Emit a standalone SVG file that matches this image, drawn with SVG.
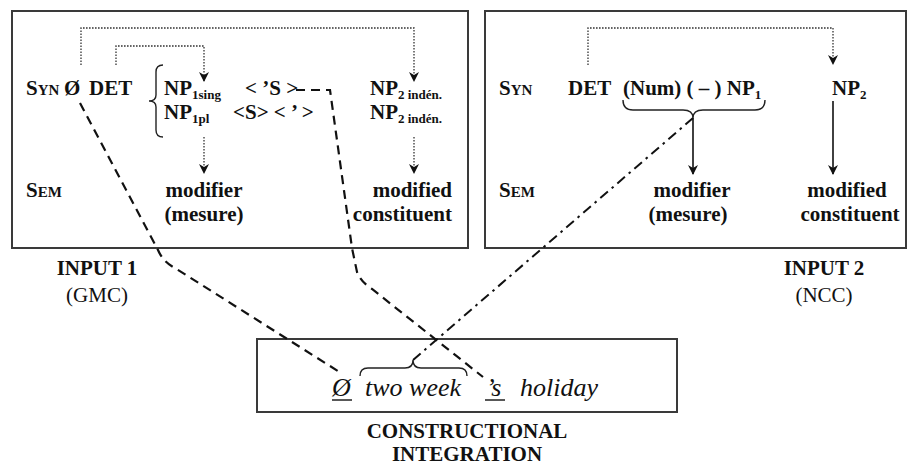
<svg xmlns="http://www.w3.org/2000/svg" width="908" height="465" viewBox="0 0 908 465">
<defs>
<style>
.box{fill:#fff;stroke:#3a3a3a;stroke-width:2}
.t{font-family:"Liberation Serif","DejaVu Serif",serif;font-weight:bold;font-size:21px;fill:#111}
.r{font-family:"Liberation Serif","DejaVu Serif",serif;font-size:21px;fill:#111}
.it{font-family:"Liberation Serif","DejaVu Serif",serif;font-style:italic;font-size:26px;fill:#111}
.sub{font-size:13px}
.sc{font-size:15px}
.dot{fill:none;stroke:#333;stroke-width:1.3;stroke-dasharray:1.6 1.4}
.sol{fill:none;stroke:#111;stroke-width:1.6}
.dash{fill:none;stroke:#111;stroke-width:2.2;stroke-dasharray:9 6}
.dd{fill:none;stroke:#111;stroke-width:2;stroke-dasharray:10 5 2.5 5}
.brace{fill:none;stroke:#222;stroke-width:1.4}
</style>
<marker id="ah" viewBox="0 0 10 10" refX="9" refY="5" markerWidth="10" markerHeight="10" markerUnits="userSpaceOnUse" orient="auto">
<path d="M0,0 L10,5 L0,10 L3,5 z" fill="#111"/>
</marker>
</defs>

<g id="input1">
<rect class="box" x="12" y="11" width="456" height="237"/>
<text class="t" x="26" y="95">S<tspan class="sc">YN</tspan></text>
<text class="t" x="64" y="95">Ø</text>
<text class="t" x="89" y="95" font-size="22">DET</text>
<path class="brace" d="M163,65 Q156,65 156,72 L156,95 Q156,101 149,101 Q156,101 156,107 L156,130 Q156,137 163,137"/>
<text class="t" x="164" y="95">NP<tspan class="sub" dy="4">1sing</tspan></text>
<text class="t" x="164" y="119">NP<tspan class="sub" dy="4">1pl</tspan></text>
<text class="t" x="245" y="95">&lt; ’S &gt;</text>
<text class="t" x="233" y="119">&lt;S&gt; &lt; ’ &gt;</text>
<text class="t" x="370" y="95">NP<tspan class="sub" dy="4">2 indén.</tspan></text>
<text class="t" x="370" y="119">NP<tspan class="sub" dy="4">2 indén.</tspan></text>
<text class="t" x="26" y="197">S<tspan class="sc">EM</tspan></text>
<text class="t" x="204" y="197" text-anchor="middle">modifier</text>
<text class="t" x="204" y="221" text-anchor="middle">(mesure)</text>
<text class="t" x="452" y="197" text-anchor="end">modified</text>
<text class="t" x="452" y="221" text-anchor="end">constituent</text>
</g>

<g id="input2">
<rect class="box" x="485" y="11" width="421" height="237"/>
<text class="t" x="499" y="95">S<tspan class="sc">YN</tspan></text>
<text class="t" x="568" y="95">DET</text>
<text class="t" x="623" y="95">(Num) ( – ) NP<tspan class="sub" dy="4">1</tspan></text>
<text class="t" x="832" y="95">NP<tspan class="sub" dy="4">2</tspan></text>
<path class="brace" d="M623,100 Q623,110 633,110 L683,110 Q693,110 693,118 Q693,110 703,110 L755,110 Q765,110 765,100"/>
<text class="t" x="499" y="197">S<tspan class="sc">EM</tspan></text>
<text class="t" x="692" y="197" text-anchor="middle">modifier</text>
<text class="t" x="688" y="221" text-anchor="middle">(mesure)</text>
<text class="t" x="847" y="197" text-anchor="middle">modified</text>
<text class="t" x="850" y="221" text-anchor="middle">constituent</text>
</g>

<g id="labels">
<text class="t" x="97" y="275" text-anchor="middle">INPUT 1</text>
<text class="r" x="97" y="302" text-anchor="middle">(GMC)</text>
<text class="t" x="824" y="275" text-anchor="middle">INPUT 2</text>
<text class="r" x="824" y="302" text-anchor="middle">(NCC)</text>
<text class="t" x="467" y="438" text-anchor="middle">CONSTRUCTIONAL</text>
<text class="t" x="467" y="461" text-anchor="middle">INTEGRATION</text>
</g>

<g id="blend">
<rect class="box" x="257" y="339" width="420" height="73" stroke-width="1.6"/>
<text class="it" x="332" y="396">Ø</text>
<line x1="332" y1="400" x2="352" y2="400" stroke="#111" stroke-width="1.4"/>
<text class="it" x="365" y="396">two week</text>
<text class="it" x="486" y="396">’s</text>
<line x1="485" y1="400" x2="505" y2="400" stroke="#111" stroke-width="1.4"/>
<text class="it" x="520" y="396">holiday</text>
<path class="brace" d="M360,376 Q360,368 368,368 L405,368 Q413,368 413,360 Q413,368 421,368 L459,368 Q467,368 467,376"/>
</g>

<g id="connectors">
<path class="dot" d="M81,65 L81,28 L414,28 L414,81" marker-end="url(#ah)"/>
<path class="dot" d="M116,65 L116,46 L204,46 L204,81" marker-end="url(#ah)"/>
<path class="dot" d="M204,137 L204,173" marker-end="url(#ah)"/>
<path class="dot" d="M414,137 L414,173" marker-end="url(#ah)"/>
<path class="dot" d="M588,65 L588,28 L833,28 L833,64" marker-end="url(#ah)"/>
<path class="sol" d="M693,118 L693,174" marker-end="url(#ah)"/>
<path class="sol" d="M833,101 L833,174" marker-end="url(#ah)"/>
<path class="dash" d="M80,103 L158,250 Q163,262 175,268 L341,373"/>
<path class="dash" d="M296,90 L330,90 L352,248 L357,272 Q361,282 372,289 L483,377"/>
<path class="dd" d="M693,118 L413,360"/>
</g>
</svg>
